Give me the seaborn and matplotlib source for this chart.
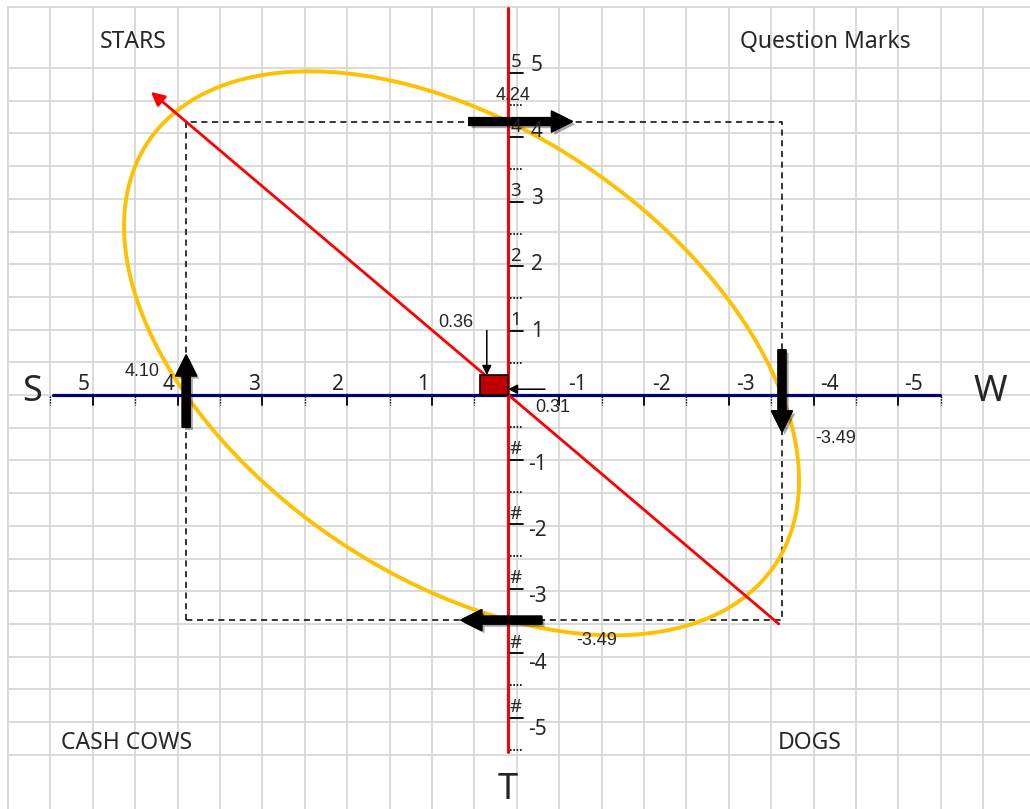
import numpy as np
import pandas as pd
import matplotlib
matplotlib.use("Agg")
import matplotlib.pyplot as plt
import matplotlib.patheffects as pe
from matplotlib.patches import Rectangle
import seaborn as sns

# values
x_values = [4.10, -3.49]        # S side (+) / W side (-)
y_values = [4.24, -3.49]        # top / T side
ellipse_tilt = -0.062           # xy term of the conic through the four intercepts
point = [0.36, 0.31]
dir_x = [-3.45, 4.55]
dir_y = [-3.55, 4.70]
ticks = [1, 2, 3, 4, 5]
quadrants = ["STARS", "Question Marks", "CASH COWS", "DOGS"]
sides = ["S", "W", "T"]

sns.set_theme(style="white")
plt.rcParams["font.family"] = ["Noto Sans", "DejaVu Sans"]
NUM_FONT = ["Liberation Sans", "DejaVu Sans"]

W, H = 1030, 809
fig = plt.figure(figsize=(W / 100, H / 100), dpi=100)

# spreadsheet cells behind the chart
bg = fig.add_axes([0, 0, 1, 1])
bg.axis("off")
top_row = (7 - 68) / 32.7
grid_c = "#d4d4d4"
for c in range(24):
    bg.plot([c, c], [top_row, 30], color=grid_c, lw=1.2, zorder=0)
for r in [top_row] + list(range(22)):
    bg.plot([0, 30], [r, r], color=grid_c, lw=1.2, zorder=0)
# small ticks under the S-W axis
for c in range(1, 23):
    if c == 12:
        continue
    solid = (c % 2 == 0) if c < 12 else (c % 2 == 1)
    bg.plot([c, c], [10.02, 10.3], color="black", lw=1.3 if solid else 1.0,
            ls="-" if solid else (0, (1, 1)), zorder=1)
bg.set_xlim(-8 / 42.4, (W - 8) / 42.4)
bg.set_ylim((H - 68) / 32.7, -68 / 32.7)

# chart
ax = fig.add_axes([0, 0, 1, 1])
ax.patch.set_alpha(0)
ax.axis("off")

# axes lines
ax.plot([5.8, -5.5], [0, 0], color="#00007f", lw=2.3, zorder=2)
ax.plot([0, 0], [6.0, -5.53], color="#ff0000", lw=2.2, zorder=3)

# dashed box
bx = [x_values[0], x_values[0], x_values[1], x_values[1], x_values[0]]
by = [y_values[1], y_values[0], y_values[0], y_values[1], y_values[1]]
ax.plot(bx, by, color="black", lw=1.1, ls=(0, (4, 3)), zorder=2)

# ellipse: conic A x^2 + B xy + C y^2 + D x + E y = 1 through the intercepts
A = -1 / (x_values[0] * x_values[1])
D = -A * (x_values[0] + x_values[1])
C = -1 / (y_values[0] * y_values[1])
E = -C * (y_values[0] + y_values[1])
B = ellipse_tilt
t = np.linspace(0, 2 * np.pi, 721)
c, s = np.cos(t), np.sin(t)
qa = A * c**2 + B * c * s + C * s**2
qb = D * c + E * s
r = (-qb + np.sqrt(qb**2 + 4 * qa)) / (2 * qa)
ell = pd.DataFrame({"x": r * c, "y": r * s})
sns.lineplot(data=ell, x="x", y="y", sort=False, estimator=None,
             color="#ffc000", lw=2.8, ax=ax, zorder=4)

# direction line
ax.annotate("", xy=(dir_x[1], dir_y[1]), xytext=(dir_x[0], dir_y[0]),
            arrowprops=dict(arrowstyle="-|>", color="#ff0000", lw=2.0,
                            mutation_scale=20, shrinkA=0, shrinkB=0), zorder=4)

# small red square
ax.add_patch(Rectangle((0, 0), point[0], point[1], facecolor="#c00000",
                       edgecolor="black", lw=1.2, zorder=5))

# thick black arrows on the axes
def big_arrow(x0, y0, x1, y1):
    ax.annotate("", xy=(x1, y1), xytext=(x0, y0), zorder=6,
                arrowprops=dict(arrowstyle="simple,head_length=0.75,head_width=0.75,tail_width=0.28",
                                color="black", mutation_scale=20, shrinkA=0, shrinkB=0,
                                path_effects=[pe.withSimplePatchShadow(offset=(2, -2), alpha=0.35),
                                              pe.Normal()]))

big_arrow(x_values[0], -0.5, x_values[0], 0.62)
big_arrow(0.5, y_values[0], -0.82, y_values[0])
big_arrow(x_values[1], 0.7, x_values[1], -0.57)
big_arrow(-0.43, y_values[1], 0.6, y_values[1])

# thin pointer arrows to the square
thin = dict(arrowstyle="-|>", color="black", lw=1.1, mutation_scale=14, shrinkA=0, shrinkB=0)
ax.annotate("", xy=(0.27, point[1]), xytext=(0.27, 1.0), arrowprops=thin, zorder=6)
ax.annotate("", xy=(0.0, 0.09), xytext=(-0.47, 0.09), arrowprops=thin, zorder=6)

# value labels
vkw = dict(fontsize=13, family=NUM_FONT, ha="center", va="center", zorder=7)
ax.text(x_values[0] + 0.56, 0.36, f"{x_values[0]:.2f}", **vkw)
ax.text(-0.06, y_values[0] + 0.40, f"{y_values[0]:.2f}", **vkw)
ax.text(x_values[1] - 0.68, -0.68, f"{x_values[1]:.2f}", **vkw)
ax.text(-1.13, y_values[1] - 0.31, f"{y_values[1]:.2f}", **vkw)
ax.text(0.66, 1.12, f"{point[0]:.2f}", **vkw)
ax.text(-0.57, -0.2, f"{point[1]:.2f}", **vkw)

# tick labels on the S-W axis
for k in ticks:
    wt = "semibold" if k == 5 else "normal"
    ax.text(k * 1.08, 0.17, str(k), fontsize=15, ha="center", va="center", weight=wt, zorder=5)
    ax.text(-k * 1.07 + 0.18, 0.17, str(-k), fontsize=15, ha="center", va="center", weight=wt, zorder=5)

# tick labels on the T axis, with the narrow cell labels next to the red line
for k in ticks:
    for v in (k, -k):
        ax.text(-0.37, 1.03 * v - 0.04, str(v), fontsize=15, ha="center", va="center",
                weight="semibold" if v == -5 else "normal", zorder=7)
        ax.text(-0.1, v + 0.02, str(v) if v > 0 else "#", fontsize=13.5,
                ha="center", va="bottom", zorder=7)
        ax.plot([-0.02, -0.19], [v, v], color="black", lw=1.3, zorder=6)
for v in np.arange(-5.5, 5.0, 1.0):
    ax.plot([-0.02, -0.19], [v, v], color="black", lw=1.2, ls=(0, (1, 1)), zorder=6)

ax.set_xlim(508 / 78.5, -(W - 508) / 78.5)
ax.set_ylim(-(H - 395) / 64.5, 395 / 64.5)

# quadrant names and side letters
qkw = dict(fontsize=16.5, ha="center", va="center")
fig.text(133 / W, 1 - 42 / H, quadrants[0], **qkw)
fig.text(825 / W, 1 - 42 / H, quadrants[1], **qkw)
fig.text(127 / W, 1 - 743 / H, quadrants[2], **qkw)
fig.text(810 / W, 1 - 743 / H, quadrants[3], **qkw)
lkw = dict(fontsize=26, ha="center", va="center")
fig.text(32 / W, 1 - 392 / H, sides[0], **lkw)
fig.text(990 / W, 1 - 392 / H, sides[1], **lkw)
fig.text(508 / W, 1 - 790 / H, sides[2], **lkw)

fig.savefig("out.png", dpi=100)
plt.close(fig)
